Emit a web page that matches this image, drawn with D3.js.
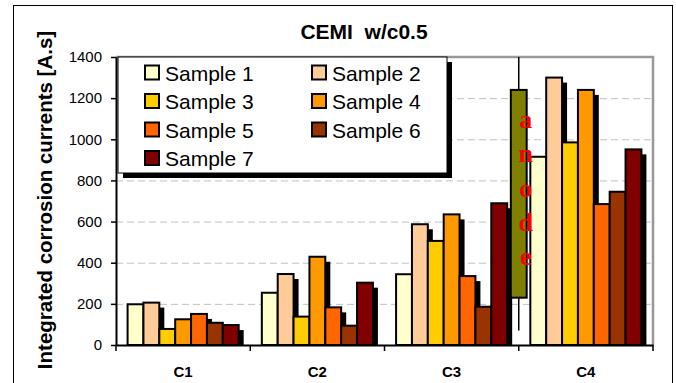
<!DOCTYPE html>
<html>
<head>
<meta charset="utf-8">
<script src="https://cdn.jsdelivr.net/npm/d3@7"></script>
<style>
    body { margin: 0; background: #fff; }
    svg { display: block; font-family: Arial, "Liberation Sans", sans-serif; }
</style>
</head>
<body>
<div id="chart"></div>
<script>
// data
const categories = ["C1", "C2", "C3", "C4"];
const samples = ["Sample 1", "Sample 2", "Sample 3", "Sample 4", "Sample 5", "Sample 6", "Sample 7"];
const colors = ["#FFFFCC", "#FFCC99", "#FFCC00", "#FF9900", "#FF6600", "#993300", "#800000"];
// one array per category, in sample order
const valuesC1 = [198, 206, 78, 125, 151, 108, 97];
const valuesC2 = [254, 345, 138, 429, 183, 94, 303];
const valuesC3 = [344, 587, 506, 635, 335, 186, 689];
const valuesC4 = [915, 1300, 985, 1240, 685, 745, 951];
const yTicks = [0, 200, 400, 600, 800, 1000, 1200, 1400];
// the olive "anode" marker (high-low line with a box)
const anode = {at: "C4", high: 1400, low: 70, top: 1240, bottom: 230, label: "anode"};

const allValues = [valuesC1, valuesC2, valuesC3, valuesC4];

const width = 676,
    height = 383,
    margin = {top: 57, right: 23, bottom: 38, left: 116},
    shadow = 5;

const svg = d3.select("#chart")
    .append("svg")
    .attr("width", width)
    .attr("height", height);

// outer chart frame
svg.append("rect")
    .attr("x", 13.5)
    .attr("y", 5.5)
    .attr("width", 659)
    .attr("height", 400)
    .attr("fill", "#fff")
    .attr("stroke", "#000")
    .attr("stroke-width", 1);

const x0 = d3.scaleBand()
    .domain(categories)
    .range([margin.left, width - margin.right])
    .padding(0);

const x1 = d3.scaleBand()
    .domain(samples)
    .range([0, x0.bandwidth()])
    .paddingInner(0)
    .paddingOuter(0.73);

const y = d3.scaleLinear()
    .domain([0, 1400])
    .range([height - margin.bottom, margin.top]);

// dashed grid
svg.append("g")
    .selectAll("line")
    .data(yTicks.filter(d => d > 0 && d < 1400))
    .join("line")
    .attr("x1", margin.left)
    .attr("x2", width - margin.right)
    .attr("y1", d => y(d) + 0.5)
    .attr("y2", d => y(d) + 0.5)
    .attr("stroke", "#c0c0c0")
    .attr("stroke-width", 1)
    .attr("stroke-dasharray", "7,4");

// plot border, grey on top and right
svg.append("path")
    .attr("d", `M${margin.left},${y(1400)}H${width - margin.right}V${y(0)}`)
    .attr("fill", "none")
    .attr("stroke", "#999")
    .attr("stroke-width", 2.5);

const flat = [];
categories.forEach((c, ci) => {
    samples.forEach((s, si) => {
        flat.push({cat: c, sample: s, value: allValues[ci][si], color: colors[si]});
    });
});

const bw = x1.bandwidth();

// shadows first, so the next bar covers them
svg.append("g")
    .selectAll("rect")
    .data(flat)
    .join("rect")
    .attr("x", d => x0(d.cat) + x1(d.sample) + shadow)
    .attr("y", d => y(d.value) + shadow)
    .attr("width", bw)
    .attr("height", d => y(0) - y(d.value) - shadow)
    .attr("fill", "#000");

svg.append("g")
    .selectAll("rect")
    .data(flat)
    .join("rect")
    .attr("x", d => x0(d.cat) + x1(d.sample))
    .attr("y", d => y(d.value))
    .attr("width", bw)
    .attr("height", d => y(0) - y(d.value))
    .attr("fill", d => d.color)
    .attr("stroke", "#000")
    .attr("stroke-width", 2);

// anode marker
const ax = x0(anode.at);
svg.append("line")
    .attr("x1", ax)
    .attr("x2", ax)
    .attr("y1", y(anode.high))
    .attr("y2", y(anode.low))
    .attr("stroke", "#000")
    .attr("stroke-width", 1.5);

svg.append("rect")
    .attr("x", ax - bw / 2)
    .attr("y", y(anode.top))
    .attr("width", bw)
    .attr("height", y(anode.bottom) - y(anode.top))
    .attr("fill", "#808000")
    .attr("stroke", "#000")
    .attr("stroke-width", 2);

svg.append("g")
    .selectAll("text")
    .data(anode.label.split(""))
    .join("text")
    .attr("x", ax + 7)
    .attr("y", (d, i) => y(anode.top) + 38 + i * 34.3)
    .attr("text-anchor", "middle")
    .attr("font-family", "'Liberation Serif', 'Times New Roman', serif")
    .attr("font-weight", "bold")
    .attr("font-size", 26)
    .attr("fill", "#ff0000")
    .text(d => d);

// axes
const yAxis = svg.append("g")
    .attr("transform", `translate(${margin.left},0)`)
    .call(d3.axisLeft(y)
        .tickValues(yTicks)
        .tickFormat(d3.format("d"))
        .tickSize(5)
        .tickSizeOuter(0)
        .tickPadding(9));
yAxis.select(".domain").attr("stroke", "#000").attr("stroke-width", 2);
yAxis.selectAll(".tick line").attr("stroke", "#000").attr("stroke-width", 1.5);
yAxis.selectAll(".tick text")
    .attr("font-family", "Arial, 'Liberation Sans', sans-serif")
    .attr("font-size", 15)
    .attr("fill", "#000");

const xAxis = svg.append("g")
    .attr("transform", `translate(0,${y(0)})`)
    .call(d3.axisBottom(x0).tickSize(0).tickPadding(21));
xAxis.select(".domain").attr("stroke", "#000").attr("stroke-width", 2);
xAxis.selectAll(".tick text")
    .attr("font-family", "Arial, 'Liberation Sans', sans-serif")
    .attr("font-weight", "bold")
    .attr("font-size", 15)
    .attr("fill", "#000");

// boundary ticks between categories
svg.append("g")
    .selectAll("line")
    .data(categories.map(c => x0(c)).concat([x0.range()[1]]))
    .join("line")
    .attr("x1", d => d)
    .attr("x2", d => d)
    .attr("y1", y(0))
    .attr("y2", y(0) + 6)
    .attr("stroke", "#000")
    .attr("stroke-width", 1.5);

// title and axis label
svg.append("text")
    .attr("x", 364)
    .attr("y", 39)
    .attr("text-anchor", "middle")
    .attr("font-weight", "bold")
    .attr("font-size", 21)
    .attr("xml:space", "preserve")
    .style("white-space", "pre")
    .text("CEMI  w/c0.5");

svg.append("text")
    .attr("transform", "translate(52,200) rotate(-90)")
    .attr("text-anchor", "middle")
    .attr("font-weight", "bold")
    .attr("font-size", 20.5)
    .text("Integrated corrosion currents [A.s]");

// legend with drop shadow
const legend = {x: 118, y: 57, w: 329, h: 116};
svg.append("rect")
    .attr("x", legend.x + shadow)
    .attr("y", legend.y + shadow)
    .attr("width", legend.w)
    .attr("height", legend.h)
    .attr("fill", "#000");
svg.append("rect")
    .attr("x", legend.x)
    .attr("y", legend.y)
    .attr("width", legend.w)
    .attr("height", legend.h)
    .attr("fill", "#fff")
    .attr("stroke", "#000")
    .attr("stroke-width", 1);

const item = svg.append("g")
    .selectAll("g")
    .data(samples)
    .join("g")
    .attr("transform", (d, i) => `translate(${i % 2 === 0 ? 145 : 312},${80.5 + Math.floor(i / 2) * 28.5})`);

item.append("rect")
    .attr("x", 0)
    .attr("y", -15)
    .attr("width", 14)
    .attr("height", 14)
    .attr("fill", (d, i) => colors[i])
    .attr("stroke", "#000")
    .attr("stroke-width", 2);

item.append("text")
    .attr("x", 20)
    .attr("y", 0)
    .attr("font-size", 21)
    .text(d => d);
</script>
</body>
</html>
